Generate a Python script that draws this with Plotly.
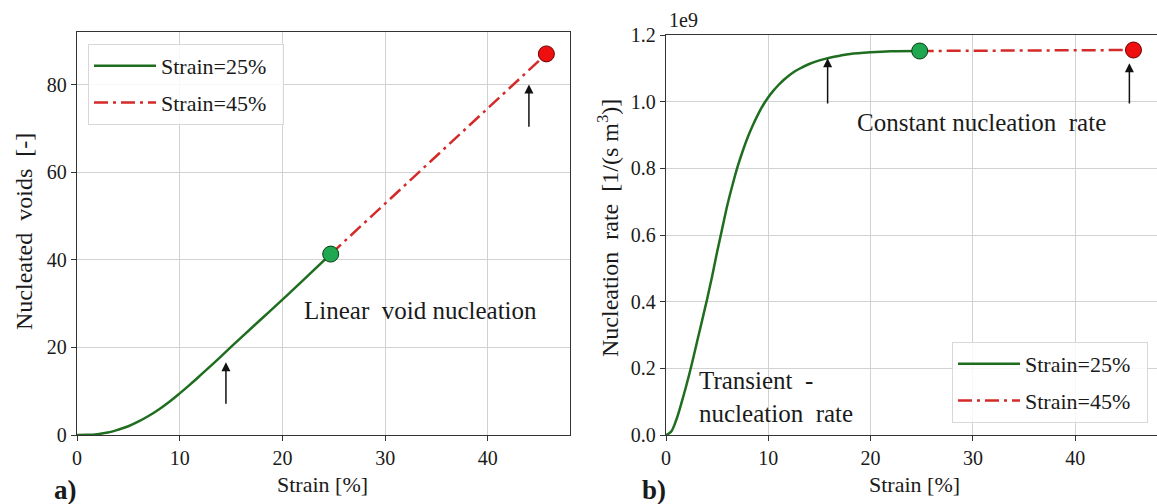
import plotly.graph_objects as go

# ---- data ----
# (a) nucleated voids vs strain, strain = 25 % run (green)
strain_a = [0, 1, 2, 3, 4, 5, 6, 7, 8, 9, 10, 11, 12, 14, 16, 18, 20, 22, 24.7]
voids_a = [0, 0.03, 0.2, 0.55, 1.2, 2.0, 3.1, 4.4, 5.9, 7.6, 9.5, 11.5, 13.6, 17.9, 22.3, 26.6, 30.9, 35.3, 41.3]
# strain = 45 % continuation (red dash-dot)
strain_a45 = [24.7, 45.7]
voids_a45 = [41.3, 87.0]

# (b) nucleation rate (units of 1e9 1/(s m^3)) vs strain
strain_b = [0, 0.5, 1, 1.5, 2, 2.5, 3, 3.5, 4, 4.5, 5, 5.5, 6, 6.5, 7, 7.5, 8, 8.5, 9, 9.5,
            10, 10.5, 11, 11.5, 12, 12.5, 13, 14, 15, 16, 17, 18, 20, 22, 24.8]
rate_b = [0, 0.01, 0.045, 0.095, 0.15, 0.21, 0.275, 0.34, 0.405, 0.475, 0.55, 0.62, 0.69,
          0.75, 0.805, 0.852, 0.894, 0.93, 0.962, 0.99, 1.013, 1.033, 1.05, 1.065, 1.078,
          1.089, 1.098, 1.113, 1.124, 1.132, 1.138, 1.143, 1.148, 1.151, 1.152]
strain_b45 = [24.8, 45.7]
rate_b45 = [1.152, 1.155]

x_ticks = [0, 10, 20, 30, 40]
ya_ticks = [0, 20, 40, 60, 80]
yb_ticks = [0.0, 0.2, 0.4, 0.6, 0.8, 1.0, 1.2]
series_names = ["Strain=25%", "Strain=45%"]

GREEN_LINE = "#1f6e1f"
RED_LINE = "#d42a2a"
GREEN_DOT = "#1fa84f"
RED_DOT = "#ee1010"
SERIF = "Liberation Serif, Times New Roman, serif"
DASH = "14px,5px,3px,5px"
PAD = "\u00a0\u00a0"

fig = go.Figure()

def panel(xs, ys, xs45, ys45, xa, ya, leg):
    fig.add_trace(go.Scatter(x=xs, y=ys, mode="lines", line=dict(color=GREEN_LINE, width=2.5, shape="spline"),
                             name=series_names[0] + PAD, xaxis=xa, yaxis=ya, legend=leg, legendgroup=leg + "g"))
    fig.add_trace(go.Scatter(x=xs45, y=ys45, mode="lines", line=dict(color=RED_LINE, width=2.5, dash=DASH),
                             name=series_names[1] + PAD, xaxis=xa, yaxis=ya, legend=leg, legendgroup=leg + "r"))
    fig.add_trace(go.Scatter(x=[xs[-1]], y=[ys[-1]], mode="markers", showlegend=False,
                             marker=dict(size=16, color=GREEN_DOT, line=dict(color="#0b3d16", width=1)),
                             xaxis=xa, yaxis=ya))
    fig.add_trace(go.Scatter(x=[xs45[-1]], y=[ys45[-1]], mode="markers", showlegend=False,
                             marker=dict(size=16, color=RED_DOT, line=dict(color="#6b0000", width=1)),
                             xaxis=xa, yaxis=ya))

panel(strain_a, voids_a, strain_a45, voids_a45, "x", "y", "legend")
panel(strain_b, rate_b, strain_b45, rate_b45, "x2", "y2", "legend2")

axis_common = dict(showline=True, linecolor="#333", linewidth=1.3, mirror=True, automargin=False,
                   showgrid=True, gridcolor="#d2d2d2", gridwidth=1, zeroline=False,
                   ticks="outside", ticklen=5, tickcolor="#333", ticklabelstandoff=0,
                   tickfont=dict(family=SERIF, size=20, color="#1a1a1a"))

leg_common = dict(bgcolor="rgba(255,255,255,0.85)", bordercolor="#d8d8d8", borderwidth=1,
                  font=dict(family=SERIF, size=22, color="#1a1a1a"), itemwidth=62,
                  tracegroupgap=5, traceorder="grouped")

Y0 = 1 - 435 / 504
fig.update_layout(
    template="none",
    width=1157, height=504, margin=dict(l=0, r=0, t=0, b=0, pad=0), autosize=False,
    font=dict(family=SERIF, size=21, color="#1a1a1a"),
    paper_bgcolor="white", plot_bgcolor="white",
    xaxis=dict(domain=[77 / 1157, 570 / 1157], range=[0, 48], tickvals=x_ticks, anchor="y", **axis_common),
    yaxis=dict(domain=[Y0, 1 - 32 / 504], range=[0, 92], tickvals=ya_ticks, anchor="x", **axis_common),
    xaxis2=dict(domain=[666 / 1157, 1.0], range=[0, 48], tickvals=x_ticks, anchor="y2", **axis_common),
    yaxis2=dict(domain=[Y0, 1 - 35 / 504], range=[0, 1.2], tickvals=yb_ticks, tickformat=".1f", anchor="x2", **axis_common),
    legend=dict(x=88 / 1157, y=1 - 44 / 504, xanchor="left", yanchor="top", **leg_common),
    legend2=dict(x=1148 / 1157, y=1 - 423 / 504, xanchor="right", yanchor="bottom", **leg_common),
    showlegend=True,
)

ann = []
def txt(x, y, text, size, xref="paper", yref="paper", xanchor="center", yanchor="middle", **kw):
    d = dict(x=x, y=y, text=text, xref=xref, yref=yref, showarrow=False,
             xanchor=xanchor, yanchor=yanchor,
             font=dict(family=SERIF, size=size, color="#1a1a1a"))
    d.update(kw)
    ann.append(d)

def arrow(xref, yref, x, y0, y1):
    ann.append(dict(x=x, y=y1, ax=x, ay=y0, xref=xref, yref=yref, axref=xref, ayref=yref,
                    text="", showarrow=True, arrowhead=2, arrowsize=1.2, arrowwidth=1.5, arrowcolor="#111"))

# axis titles
txt(24 / 1157, 1 - 232 / 504, "Nucleated  voids  [-]", 24, textangle=-90)
txt(608 / 1157, 1 - 228 / 504, "Nucleation  rate  [1/(s m<sup>3</sup>)]", 24, textangle=-90)
txt(322 / 1157, 1 - 484 / 504, "Strain [%]", 22)
txt(914 / 1157, 1 - 484 / 504, "Strain [%]", 22)
txt(52 / 1157, 1 - 490 / 504, "<b>a)</b>", 27, xanchor="left")
txt(640 / 1157, 1 - 490 / 504, "<b>b)</b>", 27, xanchor="left")
txt(667 / 1157, 1 - 20 / 504, "1e9", 20, xanchor="left")

# in-plot notes
txt(302 / 1157, 1 - 310 / 504, "Linear  void nucleation", 25, xanchor="left")
txt(855 / 1157, 1 - 122 / 504, "Constant nucleation  rate", 25, xanchor="left")
txt(697 / 1157, 1 - 397 / 504, "Transient  -<br>nucleation  rate", 25, xanchor="left", align="left")

# arrows
arrow("x", "y", 14.5, 6.8, 16.6)
arrow("x", "y", 44.0, 70.0, 80.0)
arrow("x2", "y2", 15.8, 0.99, 1.13)
arrow("x2", "y2", 45.3, 0.99, 1.115)

fig.update_layout(annotations=ann)
fig.write_html("out.html")
